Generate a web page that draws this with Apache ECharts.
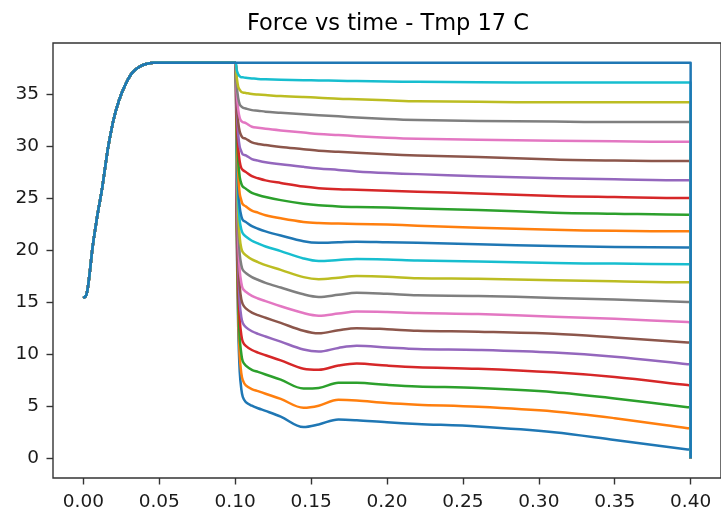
<!DOCTYPE html>
<html>
<head>
<meta charset="utf-8">
<script src="https://cdn.jsdelivr.net/npm/echarts@6/dist/echarts.min.js"></script>
<style>
  html, body { margin: 0; padding: 0; background: #ffffff; }
  #chart { width: 721px; height: 512px; }
</style>
</head>
<body>
<div id="chart"></div>
<script>
// Shared loading ramp (time in s, force) up to the release at t = 0.1 s
const riseTime  = [0, 0.002, 0.004, 0.006, 0.008, 0.010, 0.012, 0.014, 0.016, 0.018, 0.020, 0.022, 0.025, 0.028, 0.031, 0.034, 0.038, 0.042, 0.046, 0.1];
const riseForce = [15.4, 15.7, 17.6, 20.2, 22.2, 24.0, 25.6, 27.6, 29.6, 31.2, 32.6, 33.7, 35.0, 36.0, 36.8, 37.3, 37.7, 37.9, 38.0, 38.0];

// Sample times after the release; the final sample is the unload to zero
const tailTime = [0.101, 0.102, 0.103, 0.104, 0.105, 0.107, 0.111, 0.115, 0.12, 0.13, 0.145, 0.155, 0.168, 0.18, 0.2, 0.22, 0.26, 0.31, 0.35, 0.398, 0.4, 0.4];

// Force after the release, one run per relaxation level
const run0  = [21.7, 12.6, 8.3, 6.7, 5.9, 5.4, 5.05, 4.8, 4.55, 4.0, 3.0, 3.25, 3.72, 3.65, 3.45, 3.3, 3.05, 2.5, 1.75, 0.84, 0.8, 0];
const run1  = [22.5, 13.8, 9.8, 8.2, 7.5, 7.0, 6.65, 6.45, 6.2, 5.7, 4.85, 5.05, 5.62, 5.55, 5.3, 5.15, 4.95, 4.5, 3.85, 2.89, 2.85, 0];
const run2  = [23.5, 15.3, 11.5, 10.1, 9.3, 8.9, 8.5, 8.3, 8.05, 7.55, 6.7, 6.75, 7.25, 7.25, 7.05, 6.9, 6.75, 6.35, 5.75, 4.9, 4.86, 0];
const run3  = [24.4, 16.8, 13.3, 11.9, 11.2, 10.8, 10.4, 10.15, 9.9, 9.4, 8.6, 8.5, 8.9, 9.1, 8.9, 8.75, 8.6, 8.25, 7.8, 7.03, 7.0, 0];
const run4  = [25.3, 18.2, 14.9, 13.6, 13.0, 12.6, 12.2, 11.95, 11.7, 11.2, 10.45, 10.25, 10.6, 10.8, 10.65, 10.5, 10.4, 10.15, 9.75, 9.03, 9.0, 0];
const run5  = [26.2, 19.6, 16.5, 15.3, 14.8, 14.4, 14.0, 13.75, 13.5, 13.0, 12.25, 12.0, 12.3, 12.5, 12.4, 12.25, 12.15, 11.95, 11.6, 11.12, 11.1, 0];
const run6  = [27.0, 20.8, 18.0, 16.9, 16.3, 16.0, 15.6, 15.35, 15.1, 14.6, 13.95, 13.7, 13.9, 14.1, 14.05, 13.95, 13.85, 13.6, 13.4, 13.08, 13.07, 0];
const run7  = [27.9, 22.2, 19.6, 18.6, 18.1, 17.8, 17.4, 17.15, 16.85, 16.4, 15.75, 15.5, 15.7, 15.9, 15.8, 15.65, 15.6, 15.4, 15.25, 15.01, 15.0, 0];
const run8  = [28.8, 23.6, 21.2, 20.2, 19.8, 19.5, 19.1, 18.85, 18.55, 18.1, 17.4, 17.2, 17.35, 17.5, 17.45, 17.3, 17.25, 17.1, 17.0, 16.9, 16.9, 0];
const run9  = [29.7, 25.0, 22.8, 22.0, 21.6, 21.3, 20.9, 20.65, 20.35, 19.9, 19.2, 18.95, 19.05, 19.15, 19.1, 19.0, 18.9, 18.75, 18.7, 18.65, 18.65, 0];
const run10 = [30.4, 26.1, 24.1, 23.3, 22.9, 22.7, 22.3, 22.05, 21.8, 21.4, 20.85, 20.7, 20.75, 20.8, 20.75, 20.7, 20.55, 20.4, 20.3, 20.25, 20.25, 0];
const run11 = [31.1, 27.2, 25.4, 24.8, 24.4, 24.2, 23.8, 23.6, 23.35, 23.05, 22.7, 22.6, 22.55, 22.5, 22.45, 22.35, 22.15, 21.95, 21.85, 21.8, 21.8, 0];
const run12 = [32.0, 28.6, 27.0, 26.4, 26.1, 25.9, 25.5, 25.3, 25.1, 24.8, 24.45, 24.3, 24.2, 24.15, 24.1, 24.0, 23.85, 23.6, 23.5, 23.4, 23.4, 0];
const run13 = [32.8, 29.8, 28.5, 27.9, 27.7, 27.5, 27.1, 26.9, 26.7, 26.45, 26.1, 25.95, 25.85, 25.8, 25.7, 25.6, 25.45, 25.2, 25.1, 25.0, 25.0, 0];
const run14 = [33.6, 31.1, 29.9, 29.5, 29.2, 29.1, 28.75, 28.6, 28.45, 28.25, 28.0, 27.85, 27.7, 27.55, 27.4, 27.3, 27.1, 26.9, 26.8, 26.7, 26.7, 0];
const run15 = [34.4, 32.3, 31.4, 31.0, 30.8, 30.7, 30.35, 30.2, 30.1, 29.9, 29.7, 29.55, 29.45, 29.35, 29.2, 29.1, 28.95, 28.7, 28.6, 28.55, 28.55, 0];
const run16 = [35.1, 33.5, 32.7, 32.4, 32.3, 32.2, 31.85, 31.75, 31.65, 31.5, 31.3, 31.15, 31.05, 30.95, 30.8, 30.7, 30.6, 30.5, 30.45, 30.4, 30.4, 0];
const run17 = [35.8, 34.6, 34.0, 33.8, 33.7, 33.6, 33.45, 33.4, 33.3, 33.2, 33.05, 32.95, 32.85, 32.75, 32.6, 32.5, 32.4, 32.35, 32.3, 32.3, 32.3, 0];
const run18 = [36.6, 35.7, 35.4, 35.2, 35.15, 35.1, 35.0, 34.95, 34.9, 34.8, 34.7, 34.65, 34.55, 34.5, 34.4, 34.3, 34.25, 34.2, 34.2, 34.2, 34.2, 0];
const run19 = [37.3, 36.9, 36.7, 36.6, 36.6, 36.55, 36.5, 36.45, 36.42, 36.38, 36.33, 36.3, 36.27, 36.24, 36.2, 36.17, 36.13, 36.1, 36.1, 36.1, 36.1, 0];
const run20 = [38, 38, 38, 38, 38, 38, 38, 38, 38, 38, 38, 38, 38, 38, 38, 38, 38, 38, 38, 38, 38, 0];

const runs = [run0, run1, run2, run3, run4, run5, run6, run7, run8, run9, run10,
              run11, run12, run13, run14, run15, run16, run17, run18, run19, run20];

// Axis tick positions
const xTicks = [0, 0.05, 0.1, 0.15, 0.2, 0.25, 0.3, 0.35, 0.4];
const yTicks = [0, 5, 10, 15, 20, 25, 30, 35];

const titleText = 'Force vs time - Tmp 17 C';

// tab10 colour cycle
const palette = ['#1f77b4', '#ff7f0e', '#2ca02c', '#d62728', '#9467bd',
                 '#8c564b', '#e377c2', '#7f7f7f', '#bcbd22', '#17becf'];

const FONT = '"DejaVu Sans", sans-serif';
const INK = '#1a1a1a';
const TICK_FONT = 18.5;

const series = runs.map(function (tail, i) {
  const pts = riseTime.map(function (t, k) { return [t, riseForce[k]]; })
    .concat(tailTime.map(function (t, k) { return [t, tail[k]]; }));
  return {
    type: 'line',
    name: 'run ' + i,
    data: pts,
    showSymbol: false,
    symbol: 'none',
    smooth: 0.35,
    color: palette[i % palette.length],
    lineStyle: { width: 2.5, color: palette[i % palette.length], join: 'round', cap: 'butt' },
    emphasis: { disabled: true },
    animation: false,
    z: 2
  };
});

const chart = echarts.init(document.getElementById('chart'), null, { renderer: 'canvas' });
chart.setOption({
  backgroundColor: '#ffffff',
  animation: false,
  graphic: [{
    type: 'text',
    x: 388,
    y: 24,
    style: {
      text: titleText,
      font: '22.5px ' + FONT,
      fill: '#000000',
      align: 'center',
      verticalAlign: 'middle'
    }
  }],
  grid: {
    left: 53, right: -3, top: 43, bottom: 33,
    show: true, borderColor: '#333333', borderWidth: 1.4, backgroundColor: 'transparent'
  },
  xAxis: {
    type: 'value',
    min: -0.02, max: 0.42,
    axisLine: { show: false, onZero: false },
    splitLine: { show: false },
    axisTick: { show: true, inside: false, length: 6.5, customValues: xTicks,
                lineStyle: { color: '#333333', width: 1.4 } },
    axisLabel: { customValues: xTicks, margin: 15, fontSize: TICK_FONT, fontFamily: FONT, color: INK,
                 formatter: function (v) { return v.toFixed(2); } }
  },
  yAxis: {
    type: 'value',
    min: -1.9, max: 39.9,
    axisLine: { show: false, onZero: false },
    splitLine: { show: false },
    axisTick: { show: true, inside: false, length: 6.5, customValues: yTicks,
                lineStyle: { color: '#333333', width: 1.4 } },
    axisLabel: { customValues: yTicks, margin: 14, fontSize: TICK_FONT, fontFamily: FONT, color: INK,
                 formatter: function (v) { return String(v); } }
  },
  series: series
});
</script>
</body>
</html>
